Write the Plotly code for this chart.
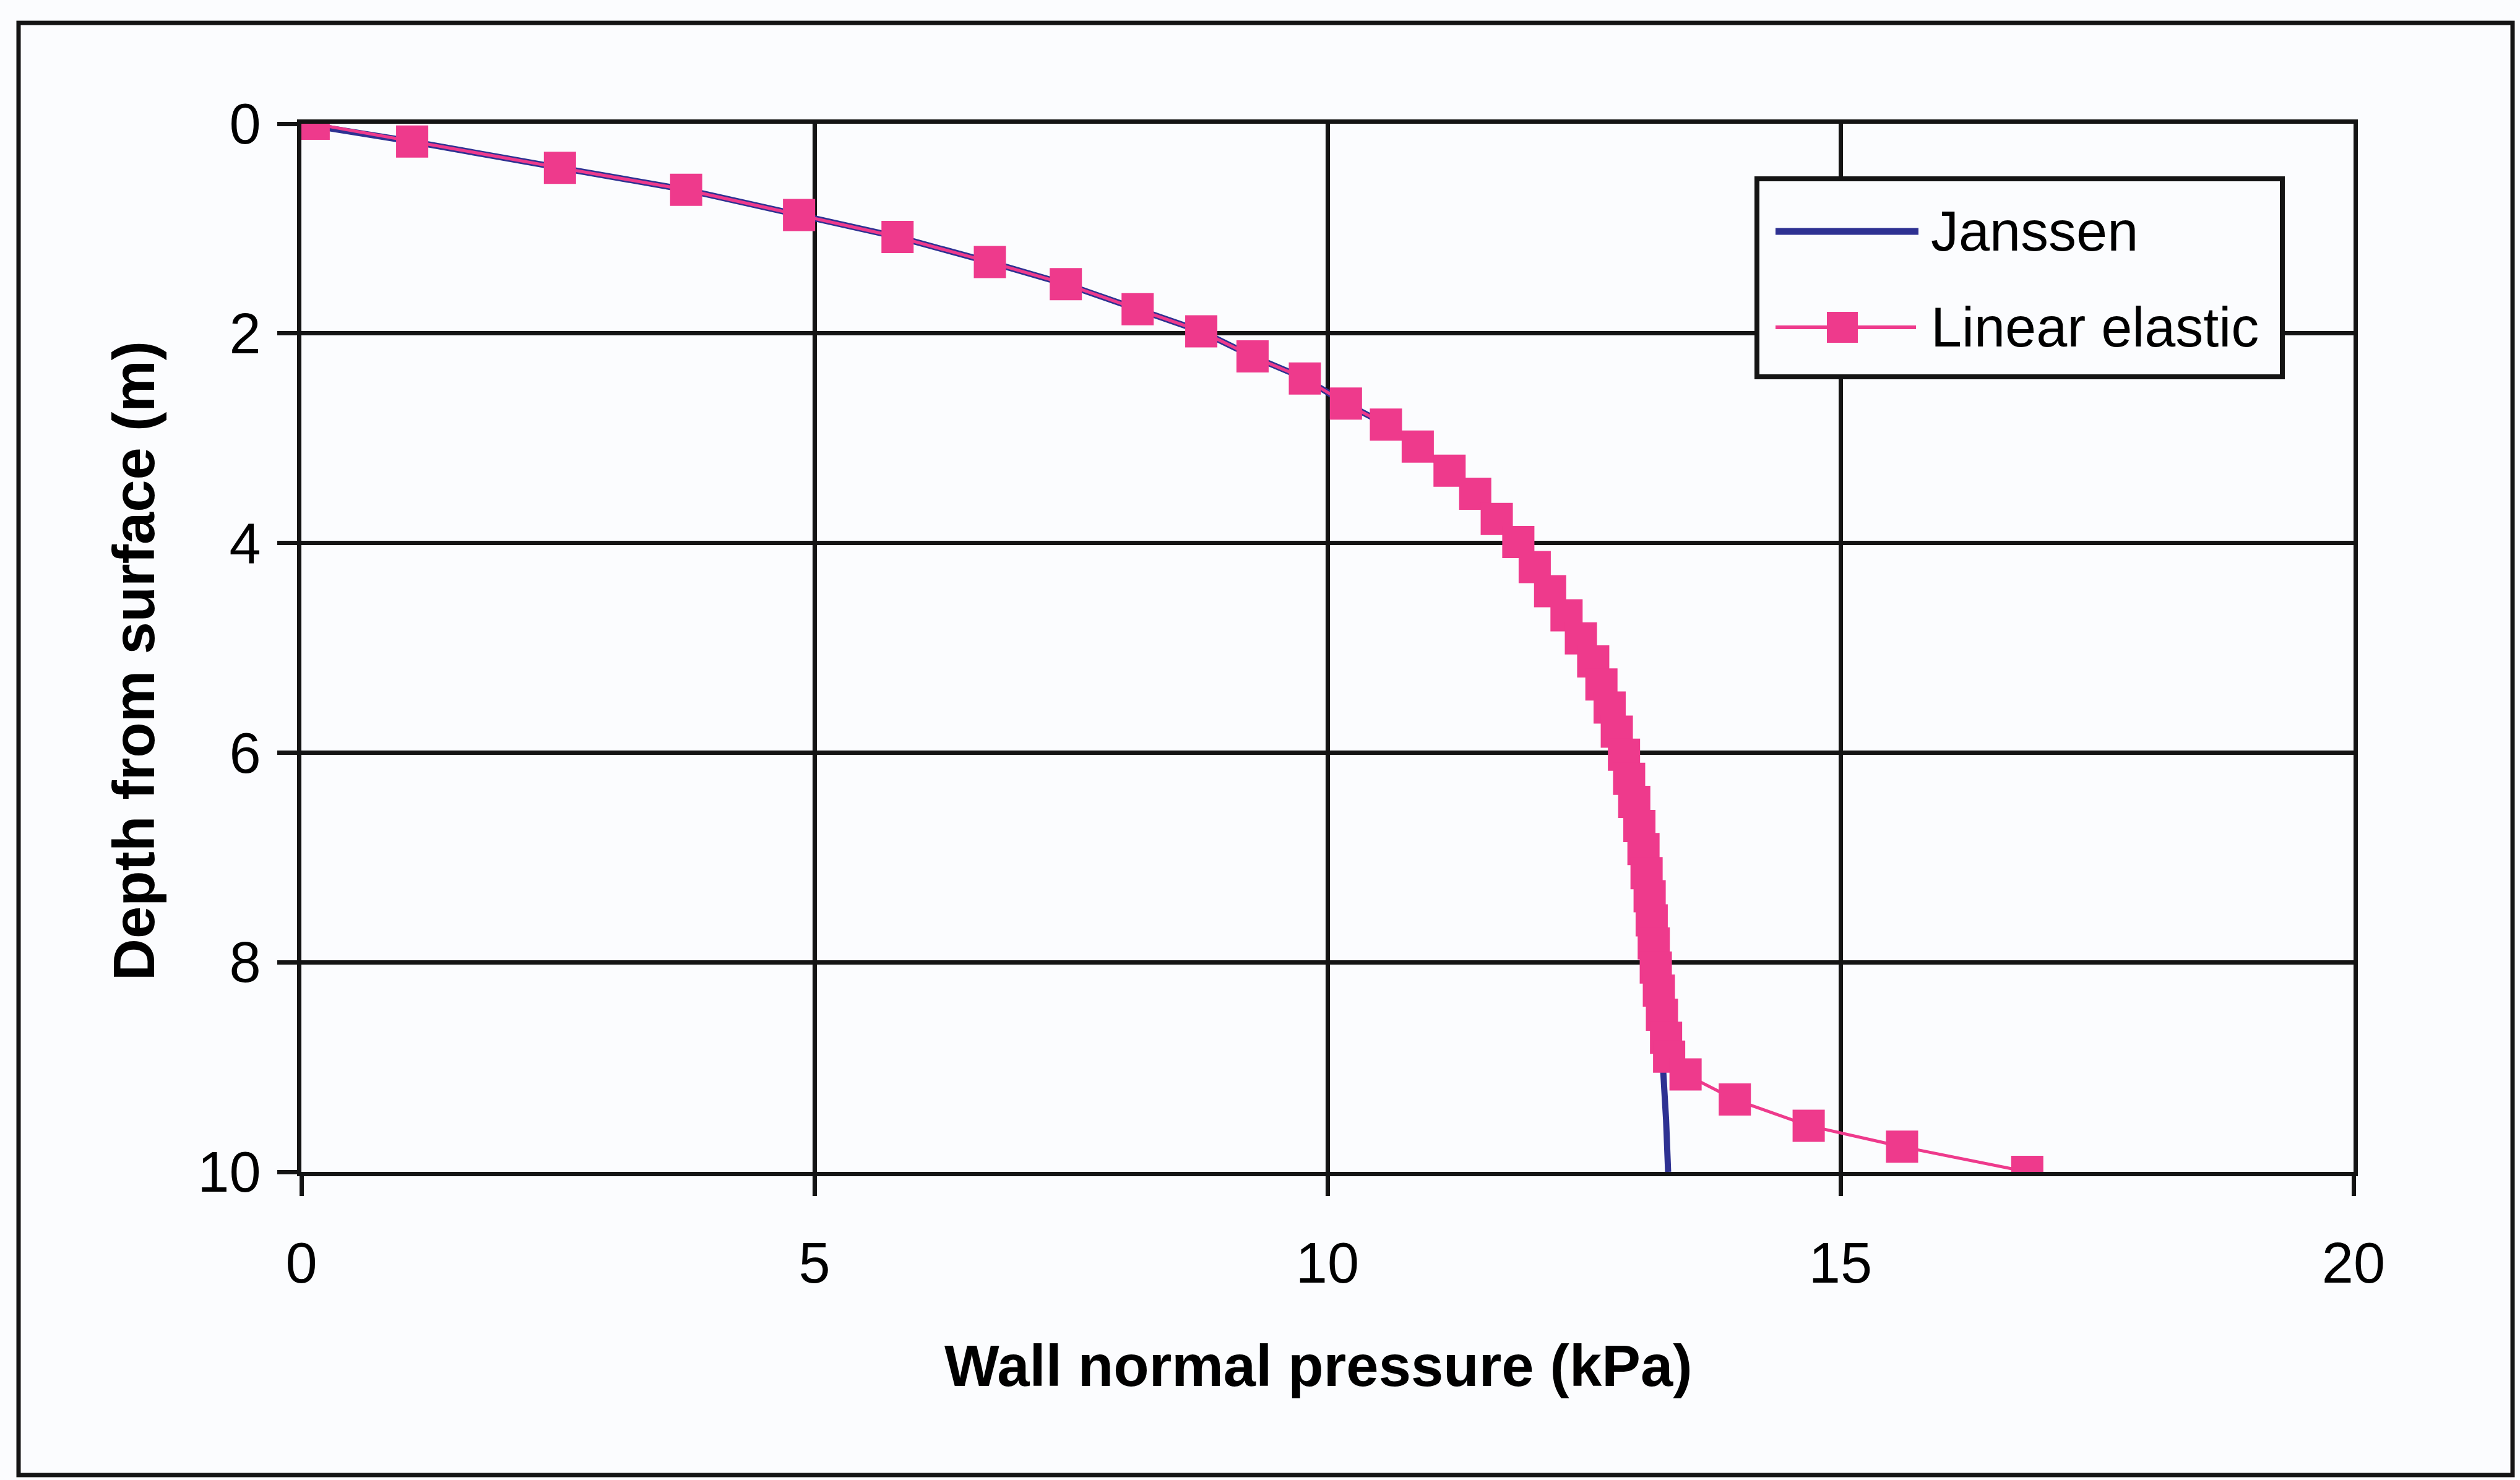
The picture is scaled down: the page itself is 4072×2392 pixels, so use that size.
import plotly.graph_objects as go

# ---------------- data ----------------
le_depth = [0, 0.17, 0.42, 0.63, 0.87, 1.08, 1.32, 1.53, 1.77, 1.98, 2.22, 2.43,
            2.67, 2.87, 3.08, 3.31, 3.53, 3.77, 3.99, 4.23, 4.46, 4.69, 4.91, 5.13,
            5.35, 5.57, 5.80, 6.02, 6.25, 6.47, 6.70, 6.92, 7.15, 7.37, 7.60, 7.82,
            8.05, 8.27, 8.50, 8.72, 8.90, 9.07, 9.31, 9.56, 9.76, 10.0]
le_pressure = [0.12, 1.08, 2.52, 3.75, 4.85, 5.81, 6.71, 7.45, 8.15, 8.77, 9.27, 9.78,
               10.18, 10.57, 10.88, 11.19, 11.44, 11.65, 11.86, 12.02, 12.17, 12.33, 12.47, 12.59,
               12.67, 12.75, 12.82, 12.89, 12.94, 12.99, 13.04, 13.08, 13.11, 13.14, 13.16, 13.18,
               13.20, 13.23, 13.26, 13.30, 13.33, 13.49, 13.97, 14.69, 15.60, 16.82]

janssen_depth = [0, 0.17, 0.42, 0.63, 0.87, 1.08, 1.32, 1.53, 1.77, 1.98, 2.22, 2.43,
                 2.67, 2.87, 3.08, 3.31, 3.53, 3.77, 3.99, 4.23, 4.46, 4.69, 4.91, 5.13,
                 5.35, 5.57, 5.80, 6.02, 6.25, 6.47, 6.70, 6.92, 7.15, 7.37, 7.60, 7.82,
                 8.05, 8.27, 8.50, 8.73, 9.00, 9.50, 9.80, 10.0]
janssen_pressure = [0.0, 1.08, 2.52, 3.75, 4.85, 5.81, 6.71, 7.45, 8.15, 8.77, 9.27, 9.78,
                    10.18, 10.57, 10.88, 11.19, 11.44, 11.65, 11.86, 12.02, 12.17, 12.33, 12.47, 12.59,
                    12.67, 12.75, 12.82, 12.89, 12.94, 12.99, 13.04, 13.08, 13.11, 13.14, 13.16, 13.18,
                    13.20, 13.22, 13.24, 13.26, 13.27, 13.30, 13.31, 13.32]

x_ticks = [0, 5, 10, 15, 20]
y_ticks = [0, 2, 4, 6, 8, 10]

series_names = ["Janssen", "Linear elastic"]
x_title = "Wall normal pressure (kPa)"
y_title = "Depth from surface (m)"

# ---------------- styling ----------------
W, H = 4072, 2392
L, R, T, B = 487, 4072 - 3803, 200, 2392 - 1894
PW, PH = W - L - R, H - T - B

NAVY = "#2E3192"
PINK = "#EE3A8C"
INK = "#141414"
FONT = "Liberation Sans, Arial, sans-serif"
BG = "#FBFCFE"


def px(xp):
    return (xp - L) / PW


def py(yp):
    return (H - B - yp) / PH


fig = go.Figure()
fig.add_trace(go.Scatter(
    x=janssen_pressure, y=janssen_depth, mode="lines", name=series_names[0],
    line=dict(color=NAVY, width=10), showlegend=False))
fig.add_trace(go.Scatter(
    x=le_pressure, y=le_depth, mode="lines+markers", name=series_names[1],
    line=dict(color=PINK, width=5),
    marker=dict(symbol="square", size=52, color=PINK, line=dict(width=0)),
    showlegend=False))

axis_common = dict(
    showgrid=True, gridcolor=INK, gridwidth=7,
    showline=True, linecolor=INK, linewidth=7, mirror=True,
    ticks="outside", ticklen=32, tickwidth=7, tickcolor=INK,
    zeroline=False,
    tickfont=dict(family=FONT, size=92, color="#000000"),
)

fig.update_xaxes(range=[0, 20], tickvals=x_ticks, ticktext=[str(v) for v in x_ticks],
                 ticklabelstandoff=30, **axis_common)
fig.update_yaxes(range=[10, 0], tickvals=y_ticks, ticktext=[str(v) for v in y_ticks],
                 ticklabelstandoff=8, **axis_common)

shapes = []
# outer chart-area frame
shapes.append(dict(type="rect", xref="paper", yref="paper",
                   x0=px(30), x1=px(4060), y0=py(2384), y1=py(37),
                   line=dict(color=INK, width=7), fillcolor="rgba(0,0,0,0)", layer="below"))
# legend box
shapes.append(dict(type="rect", xref="paper", yref="paper",
                   x0=px(2839), x1=px(3688), y0=py(609), y1=py(289),
                   line=dict(color=INK, width=8), fillcolor=BG, layer="above"))
# legend samples
shapes.append(dict(type="line", xref="paper", yref="paper",
                   x0=px(2869), x1=px(3100), y0=py(374), y1=py(374),
                   line=dict(color=NAVY, width=11), layer="above"))
shapes.append(dict(type="line", xref="paper", yref="paper",
                   x0=px(2869), x1=px(3096), y0=py(529), y1=py(529),
                   line=dict(color=PINK, width=6), layer="above"))
shapes.append(dict(type="rect", xref="paper", yref="paper",
                   x0=px(2977 - 25), x1=px(2977 + 25), y0=py(529 + 25), y1=py(529 - 25),
                   line=dict(width=0), fillcolor=PINK, layer="above"))

annotations = [
    dict(text="<b>%s</b>" % x_title, xref="paper", yref="paper",
         x=px(2130), y=py(2207), xanchor="center", yanchor="middle", showarrow=False,
         font=dict(family=FONT, size=94, color="#000000")),
    dict(text="<b>%s</b>" % y_title, xref="paper", yref="paper",
         x=px(216), y=py(1068), xanchor="center", yanchor="middle", showarrow=False,
         textangle=-90, font=dict(family=FONT, size=94, color="#000000")),
    dict(text=series_names[0], xref="paper", yref="paper",
         x=px(3118), y=py(374), xanchor="left", yanchor="middle", showarrow=False,
         font=dict(family=FONT, size=90, color="#000000")),
    dict(text=series_names[1], xref="paper", yref="paper",
         x=px(3118), y=py(529), xanchor="left", yanchor="middle", showarrow=False,
         font=dict(family=FONT, size=90, color="#000000")),
]

fig.update_layout(
    width=W, height=H,
    margin=dict(l=L, r=R, t=T, b=B, pad=0),
    paper_bgcolor=BG, plot_bgcolor=BG,
    shapes=shapes, annotations=annotations,
    showlegend=False,
)

fig.write_html("out.html")
